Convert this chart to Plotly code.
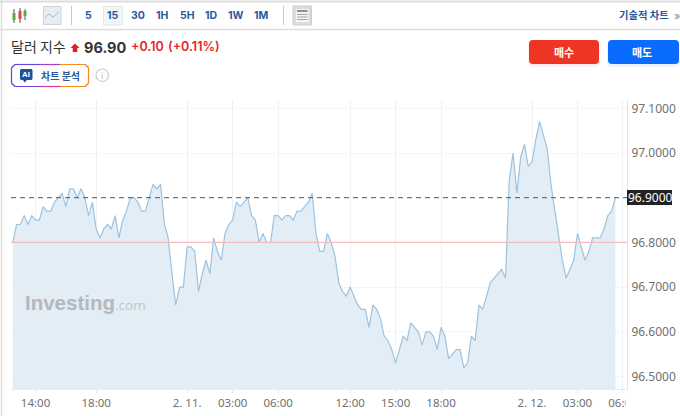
import plotly.graph_objects as go

values = [96.80,96.84,96.84,96.86,96.84,96.86,96.85,96.85,96.88,96.87,96.87,96.89,96.90,96.91,96.88,96.92,96.92,96.90,96.92,96.90,
96.86,96.89,96.83,96.81,96.83,96.84,96.83,96.86,96.81,96.85,96.87,96.90,96.90,96.89,96.87,96.87,96.90,96.93,96.92,96.93,
96.84,96.81,96.73,96.66,96.70,96.70,96.79,96.79,96.78,96.69,96.73,96.76,96.73,96.81,96.78,96.76,96.82,96.84,96.85,96.89,
96.88,96.89,96.90,96.86,96.85,96.80,96.82,96.80,96.80,96.86,96.86,96.85,96.86,96.86,96.85,96.87,96.87,96.88,96.89,96.91,
96.82,96.78,96.78,96.82,96.80,96.77,96.71,96.69,96.68,96.70,96.68,96.66,96.65,96.65,96.61,96.66,96.65,96.63,96.59,96.58,
96.56,96.53,96.56,96.59,96.58,96.62,96.61,96.60,96.57,96.60,96.60,96.59,96.56,96.61,96.59,96.54,96.55,96.56,96.56,96.52,
96.53,96.59,96.58,96.66,96.65,96.68,96.71,96.72,96.73,96.74,96.72,96.94,97.00,96.91,96.99,97.02,96.97,96.98,97.03,97.07,
97.04,97.01,96.93,96.87,96.81,96.76,96.72,96.74,96.76,96.82,96.79,96.76,96.78,96.81,96.81,96.81,96.83,96.86,96.87,96.90]
positions = list(range(len(values)))

x_tick_positions = [6, 22, 46, 58, 70, 89, 101, 113, 137, 149, 161]
x_tick_labels = ["14:00", "18:00", "2. 11.", "03:00", "06:00", "12:00", "15:00", "18:00", "2. 12.", "03:00", "06:00"]
y_tick_values = [96.5, 96.6, 96.7, 96.8, 97.0, 97.1]
y_tick_labels = ["96.5000", "96.6000", "96.7000", "96.8000", "97.0000", "97.1000"]
last_price = 96.90
previous_close = 96.80

W, H = 680, 416
L, R, T, B = 11, 627, 100, 389
KR = "'Noto Sans CJK KR', 'Noto Sans', sans-serif"
LAT = "'Noto Sans', 'Open Sans', sans-serif"
HEAD = "Inter, 'Noto Sans CJK KR', sans-serif"
BLUE = "#2a5a9a"
RED = "#e5261f"


def fx(p):
    return (p - L) / (R - L)


def fy(p):
    return (B - p) / (B - T)


shapes, annos = [], []


def rect(x0, y0, x1, y1, fill=None, line=None, lw=1, layer="above"):
    shapes.append(dict(type="rect", xref="paper", yref="paper", x0=fx(x0), x1=fx(x1), y0=fy(y0), y1=fy(y1),
                       fillcolor=fill or "rgba(0,0,0,0)", line=dict(color=line or "rgba(0,0,0,0)", width=lw if line else 0), layer=layer))


def seg(x0, y0, x1, y1, color, lw=1, dash="solid"):
    shapes.append(dict(type="line", xref="paper", yref="paper", x0=fx(x0), x1=fx(x1), y0=fy(y0), y1=fy(y1),
                       line=dict(color=color, width=lw, dash=dash), layer="above"))


def poly(pts, fill=None, line=None, lw=1, close=False):
    d = "M " + " L ".join(f"{fx(a):.5f},{fy(b):.5f}" for a, b in pts) + (" Z" if close else "")
    shapes.append(dict(type="path", xref="paper", yref="paper", path=d, fillcolor=fill or "rgba(0,0,0,0)",
                       line=dict(color=line or "rgba(0,0,0,0)", width=lw if line else 0), layer="above"))


def round_rect(x0, y0, x1, y1, r, fill=None, line=None, lw=1):
    k = 0.3 * r
    d = (f"M {fx(x0+r):.5f},{fy(y0):.5f} L {fx(x1-r):.5f},{fy(y0):.5f} "
         f"C {fx(x1-k):.5f},{fy(y0):.5f} {fx(x1):.5f},{fy(y0+k):.5f} {fx(x1):.5f},{fy(y0+r):.5f} "
         f"L {fx(x1):.5f},{fy(y1-r):.5f} C {fx(x1):.5f},{fy(y1-k):.5f} {fx(x1-k):.5f},{fy(y1):.5f} {fx(x1-r):.5f},{fy(y1):.5f} "
         f"L {fx(x0+r):.5f},{fy(y1):.5f} C {fx(x0+k):.5f},{fy(y1):.5f} {fx(x0):.5f},{fy(y1-k):.5f} {fx(x0):.5f},{fy(y1-r):.5f} "
         f"L {fx(x0):.5f},{fy(y0+r):.5f} C {fx(x0):.5f},{fy(y0+k):.5f} {fx(x0+k):.5f},{fy(y0):.5f} {fx(x0+r):.5f},{fy(y0):.5f} Z")
    shapes.append(dict(type="path", xref="paper", yref="paper", path=d, fillcolor=fill or "rgba(0,0,0,0)",
                       line=dict(color=line or "rgba(0,0,0,0)", width=lw if line else 0), layer="above"))


def text(x, y, s, size, color, family=HEAD, anchor="left", weight=None):
    f = dict(size=size, color=color, family=family)
    if weight:
        f["weight"] = weight
    annos.append(dict(xref="paper", yref="paper", x=fx(x), y=fy(y), text=s, showarrow=False, xanchor=anchor, yanchor="middle",
                      font=f, borderpad=0))


# frame
seg(0, 1.5, W, 1.5, "#dddddd", 2)
seg(0, 29.5, W, 29.5, "#dddddd", 1.5)
seg(1.5, 0, 1.5, H, "#dddddd", 1.5)

# toolbar: candle icon
for cx, col, y0, y1, w0, w1 in [(14, "#5aa845", 13, 20, 9, 23), (20, "#e0463c", 11, 19, 8, 23), (25, "#5aa845", 11, 16, 9, 20)]:
    seg(cx, w0, cx, w1, "#555555", 1)
    rect(cx - 1.5, y0, cx + 1.5, y1, fill=col)

# toolbar: line icon
rect(43.5, 6.5, 61, 24.5, fill="#e6edf4", line="#cfd3d7")
poly([(45, 18), (49, 14), (53, 17), (59, 12)], line="#9dbbd8", lw=1)
seg(71.5, 6, 71.5, 25, "#c8c8c8", 1)
rect(103.5, 6.5, 122.5, 25, fill="#f3f4f6", line="#e4e5e7")
for x_, s in [(88, "5"), (113, "15"), (137.5, "30"), (162.5, "1H"), (187, "5H"), (211.5, "1D"), (236, "1W"), (261, "1M")]:
    text(x_, 15.5, f"<b>{s}</b>", 10.5, BLUE, anchor="center")
seg(283.5, 6, 283.5, 25, "#c8c8c8", 1)
rect(293, 6, 311.5, 25, fill="#dcdcdc", line="#cccccc")
rect(296, 9, 308.5, 22, fill="#f5f5f5")
rect(297, 10, 307.5, 12, fill="#8f8f8f")
for yy in (14.5, 17, 19.5):
    seg(297, yy, 307.5, yy, "#a5a5a5", 1)
text(670, 15, "<b>기술적 차트</b>", 10.3, BLUE, KR, anchor="right")
text(673, 15.5, "»", 11, "#6f8fb5", anchor="left")

# heading
text(10, 46.5, "달러 지수", 14, "#333333", KR)
poly([(75, 43.5), (79.5, 48), (77.3, 48), (77.3, 52), (72.7, 52), (72.7, 48), (70.5, 48)], fill="#e02020", close=True)
text(82.5, 47.5, "<b>96.90</b>", 14.5, "#333333")
text(129.5, 46.5, "+0.10", 12.5, RED, weight=600)
text(166.5, 46.5, "(+0.11%)", 12.5, RED, weight=600)

# AI button
round_rect(11.5, 64.5, 88.5, 86.5, 4, fill="#ffffff", line="#d9d9d9", lw=1.2)
poly([(15, 64.5), (40, 64.5)], line="#3f6fe0", lw=1.2)
poly([(40, 64.5), (60, 64.5)], line="#a041c8", lw=1.2)
poly([(60, 64.5), (85, 64.5), (88.5, 68), (88.5, 83), (85, 86.5), (60, 86.5)], line="#f58a1f", lw=1.2)
poly([(40, 86.5), (60, 86.5)], line="#d63c96", lw=1.2)
poly([(40, 64.5), (15, 64.5), (11.5, 68), (11.5, 83), (15, 86.5), (40, 86.5)], line="#6a45dc", lw=1.2)
round_rect(20, 69, 32.5, 80, 2, fill="#1f4f94")
poly([(23, 80), (27, 80), (24.5, 82.5)], fill="#1f4f94", close=True)
text(26.2, 74.5, "<b>AI</b>", 8, "#ffffff", "'Liberation Sans', sans-serif", anchor="center")
text(39.5, 75, "<b>차트 분석</b>", 10, BLUE, KR)
shapes.append(dict(type="circle", xref="paper", yref="paper", x0=fx(96), x1=fx(108.5), y0=fy(69), y1=fy(81.5),
                   line=dict(color="#cccccc", width=1.2), layer="above"))
text(102.2, 75.3, "i", 9, "#b5b5b5", LAT, anchor="center")

# buttons
round_rect(528, 42, 600, 67, 5, fill="rgba(238,53,36,0.08)")
round_rect(607, 42, 680, 67, 5, fill="rgba(10,108,255,0.08)")
round_rect(529, 40, 599, 64, 4, fill="#ee3524")
round_rect(608, 40, 679, 64, 4, fill="#0a6cff")
text(564, 52, "<b>매수</b>", 11, "#ffffff", KR, anchor="center")
text(642, 52, "<b>매도</b>", 11, "#ffffff", KR, anchor="center")

# reference lines
shapes.append(dict(type="line", xref="paper", yref="y", x0=0, x1=1, y0=previous_close, y1=previous_close,
                   line=dict(color="#f9bcbc", width=1.2), layer="above"))
shapes.append(dict(type="line", xref="paper", yref="y", x0=0, x1=1, y0=last_price, y1=last_price,
                   line=dict(color="#555555", width=1, dash="5px,4px"), layer="above"))

# logo
text(24, 302.5, "<b>Investing</b>", 20.5, "#b4b8bc", "'Liberation Sans', sans-serif")
text(114, 305, ".com", 13.5, "#c3c7cb", "'Open Sans', sans-serif")

# last-price tag
rect(627, 190, 672, 205, fill="#222222")
text(650.5, 197.5, "96.9000", 12, "#ffffff", LAT, anchor="center")

# clip of the last time label at the plot edge
rect(625.5, 392, 680, 414, fill="#ffffff")

fig = go.Figure(go.Scatter(x=positions, y=values, mode="lines", fill="tozeroy", fillcolor="#e3edf5",
                           line=dict(color="#9cc3e0", width=1.2), hoverinfo="skip"))
fig.update_layout(
    width=W, height=H, autosize=False, margin=dict(l=L, r=W - R, t=T, b=H - B, pad=0, autoexpand=False),
    paper_bgcolor="#ffffff", plot_bgcolor="#ffffff", showlegend=False, shapes=shapes, annotations=annos,
    font=dict(family=LAT, size=12, color="#707070"),
    xaxis=dict(automargin=False, range=[-0.475, 162.06], tickmode="array", tickvals=x_tick_positions, ticktext=x_tick_labels,
               showgrid=True, gridcolor="#eff2f5", gridwidth=1, ticks="outside", ticklen=3, tickcolor="#e6e9f0",
               showline=True, linecolor="#e6ebf2", zeroline=False, tickfont=dict(size=11.5, color="#707070", family=LAT)),
    yaxis=dict(automargin=False, range=[96.472, 97.1186], side="right", tickmode="array", tickvals=y_tick_values, ticktext=y_tick_labels,
               showgrid=True, gridcolor="#f4f6f8", gridwidth=1, ticks="outside", ticklen=1, tickcolor="rgba(0,0,0,0)",
               showline=True, linecolor="#dfe5ee", zeroline=False, tickfont=dict(size=12, color="#707070", family=LAT)),
)
fig.write_html("out.html", config={"displayModeBar": False, "responsive": False},
               post_script="document.documentElement.style.margin='0';document.body.style.margin='0';document.body.style.overflow='hidden';")
